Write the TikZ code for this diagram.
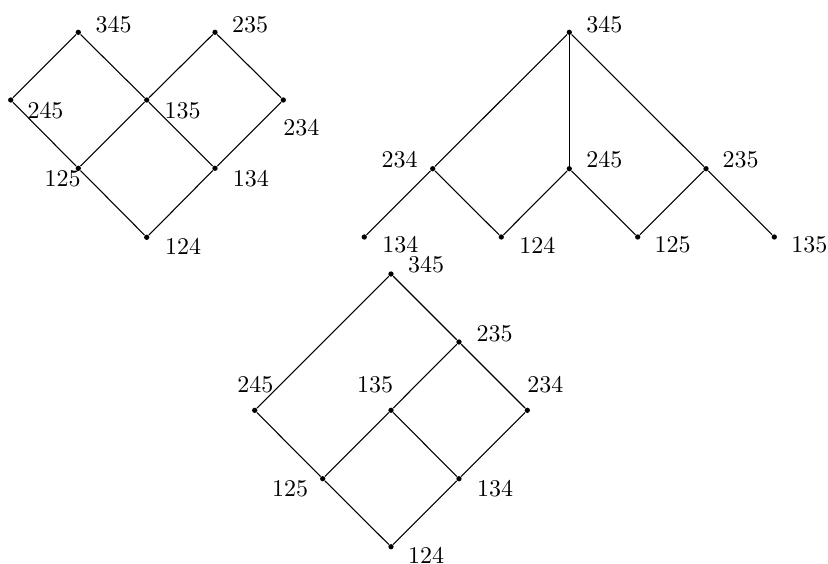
\documentclass[tikz,border=0pt]{standalone}
\begin{document}
\begin{tikzpicture}[x=0.014641cm,y=-0.014641cm,
  dot/.style={circle,fill=black,inner sep=0pt,minimum size=2.2pt},
  lbl/.style={inner sep=0pt,anchor=center},
  edge/.style={line width=0.45pt}]
\useasboundingbox (0,0) rectangle (828,563);
% ---------- left diagram ----------
\node[dot] (L345) at (78.3,32.3) {};
\node[dot] (L235) at (215,32.3) {};
\node[dot] (L245) at (10.7,100) {};
\node[dot] (L135) at (146.7,100) {};
\node[dot] (L234) at (283.3,100) {};
\node[dot] (L125) at (78.3,168.3) {};
\node[dot] (L134) at (215,168.3) {};
\node[dot] (L124) at (146.7,237.3) {};
\draw[edge] (L245) -- (L345) -- (L135) -- (L134) -- (L124) -- (L125) -- (L245);
\draw[edge] (L235) -- (L135) -- (L125);
\draw[edge] (L235) -- (L234) -- (L134);
\node[lbl] at ([shift={(35.4,-8)}]L345) {345};
\node[lbl] at ([shift={(35.2,-8)}]L235) {235};
\node[lbl] at ([shift={(34.8,10.3)}]L245) {245};
\node[lbl] at ([shift={(35.8,10.3)}]L135) {135};
\node[lbl] at ([shift={(18,28)}]L234) {234};
\node[lbl] at ([shift={(-15.8,10)}]L125) {125};
\node[lbl] at ([shift={(35.8,10)}]L134) {134};
\node[lbl] at ([shift={(36.3,9)}]L124) {124};
% ---------- right diagram ----------
\node[dot] (R345) at (569.3,32.3) {};
\node[dot] (R234) at (432.7,168.7) {};
\node[dot] (R245) at (569.3,168.7) {};
\node[dot] (R235) at (706,168.7) {};
\node[dot] (R134) at (364.3,237) {};
\node[dot] (R124) at (501.3,237) {};
\node[dot] (R125) at (637.7,237) {};
\node[dot] (R135) at (774.3,237) {};
\draw[edge] (R134) -- (R234) -- (R345) -- (R235) -- (R135);
\draw[edge] (R345) -- (R245);
\draw[edge] (R234) -- (R124) -- (R245) -- (R125) -- (R235);
\node[lbl] at ([shift={(35,-8)}]R345) {345};
\node[lbl] at ([shift={(-33,-8.7)}]R234) {234};
\node[lbl] at ([shift={(35,-8.7)}]R245) {245};
\node[lbl] at ([shift={(34.5,-8.7)}]R235) {235};
\node[lbl] at ([shift={(36,8)}]R134) {134};
\node[lbl] at ([shift={(36,8)}]R124) {124};
\node[lbl] at ([shift={(35,8)}]R125) {125};
\node[lbl] at ([shift={(35,8)}]R135) {135};
% ---------- bottom diagram ----------
\node[dot] (B345) at (391,274) {};
\node[dot] (B235) at (459,342) {};
\node[dot] (B245) at (254.7,410.3) {};
\node[dot] (B135) at (391,410.3) {};
\node[dot] (B234) at (527.3,410.3) {};
\node[dot] (B125) at (322.7,478.7) {};
\node[dot] (B134) at (459,478.7) {};
\node[dot] (B124) at (391,546.7) {};
\draw[edge] (B245) -- (B345) -- (B235) -- (B234) -- (B134) -- (B124) -- (B125) -- (B245);
\draw[edge] (B235) -- (B135) -- (B125);
\draw[edge] (B135) -- (B134);
\node[lbl] at ([shift={(35,-9)}]B345) {345};
\node[lbl] at ([shift={(35.5,-8)}]B235) {235};
\node[lbl] at ([shift={(0.6,-26)}]B245) {245};
\node[lbl] at ([shift={(-16,-26)}]B135) {135};
\node[lbl] at ([shift={(18,-26)}]B234) {234};
\node[lbl] at ([shift={(-32.7,9.6)}]B125) {125};
\node[lbl] at ([shift={(36,9.6)}]B134) {134};
\node[lbl] at ([shift={(35,9)}]B124) {124};
\end{tikzpicture}
\end{document}
